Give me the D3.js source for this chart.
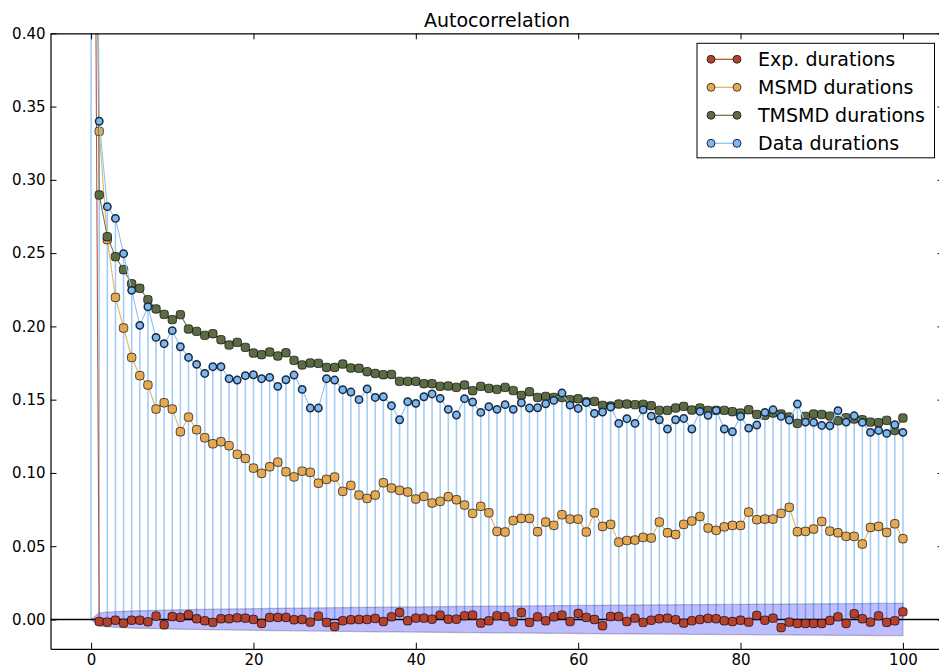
<!DOCTYPE html>
<html><head><meta charset="utf-8">
<script src="https://cdn.jsdelivr.net/npm/d3@7"></script>
<style>body{margin:0;background:#fff}svg{display:block;font-family:"DejaVu Sans",sans-serif}</style>
</head><body><svg id="c" width="939" height="668"></svg>
<script>
// ---------- data ----------
const lags = d3.range(0, 101);
const seriesNames = ["Exp. durations", "MSMD durations", "TMSMD durations", "Data durations"];
const expDurations = [1.0,
 -0.0014,-0.0018,-0.0005,-0.0025,-0.0005,-0.0005,-0.0016,0.0023,-0.0036,0.0020,
 0.0014,0.0032,0.0005,-0.0009,-0.0020,0.0005,0.0005,0.0011,0.0009,0.0000,
 -0.0027,0.0014,0.0014,0.0014,-0.0002,0.0000,-0.0018,0.0023,-0.0020,-0.0048,
 -0.0009,-0.0002,0.0000,0.0000,0.0007,-0.0014,0.0018,0.0048,-0.0009,0.0009,
 0.0009,0.0002,0.0030,0.0002,0.0002,0.0025,0.0030,-0.0025,-0.0009,0.0025,
 0.0020,-0.0016,0.0048,-0.0020,0.0018,-0.0009,0.0018,0.0030,-0.0014,0.0041,
 0.0014,0.0000,-0.0043,0.0020,0.0020,-0.0014,0.0009,-0.0020,-0.0005,0.0005,
 0.0009,-0.0002,-0.0025,-0.0009,0.0000,0.0007,0.0005,-0.0009,-0.0014,-0.0005,
 -0.0018,0.0027,-0.0005,0.0009,-0.0055,-0.0018,-0.0027,-0.0027,-0.0027,-0.0027,
 -0.0007,0.0018,-0.0027,0.0039,0.0005,-0.0018,0.0025,-0.0020,-0.0009,0.0052];
const msmdDurations = [1.0,
 0.3331,0.2592,0.2198,0.1989,0.1788,0.1664,0.1600,0.1436,0.1479,0.1436,
 0.1281,0.1381,0.1295,0.1240,0.1199,0.1213,0.1186,0.1127,0.1099,0.1033,
 0.0997,0.1042,0.1074,0.1008,0.0973,0.1012,0.1004,0.0930,0.0956,0.0972,
 0.0874,0.0915,0.0849,0.0826,0.0849,0.0933,0.0897,0.0881,0.0870,0.0822,
 0.0840,0.0795,0.0806,0.0838,0.0817,0.0781,0.0724,0.0772,0.0728,0.0601,
 0.0597,0.0675,0.0690,0.0690,0.0599,0.0665,0.0642,0.0715,0.0685,0.0685,
 0.0597,0.0728,0.0635,0.0649,0.0528,0.0539,0.0542,0.0560,0.0556,0.0665,
 0.0592,0.0580,0.0649,0.0672,0.0703,0.0624,0.0608,0.0632,0.0642,0.0642,
 0.0733,0.0681,0.0685,0.0685,0.0724,0.0765,0.0599,0.0601,0.0617,0.0669,
 0.0603,0.0592,0.0567,0.0567,0.0515,0.0628,0.0635,0.0594,0.0653,0.0551];
const tmsmdDurations = [1.0,
 0.2897,0.2612,0.2476,0.2387,0.2291,0.2260,0.2182,0.2119,0.2082,0.2046,
 0.2080,0.1982,0.1966,0.1939,0.1950,0.1909,0.1873,0.1891,0.1857,0.1818,
 0.1807,0.1825,0.1798,0.1820,0.1768,0.1737,0.1750,0.1748,0.1720,0.1720,
 0.1743,0.1716,0.1714,0.1691,0.1679,0.1670,0.1672,0.1625,0.1625,0.1625,
 0.1609,0.1609,0.1591,0.1593,0.1584,0.1600,0.1561,0.1591,0.1577,0.1570,
 0.1584,0.1562,0.1529,0.1554,0.1515,0.1522,0.1515,0.1515,0.1500,0.1506,
 0.1486,0.1488,0.1461,0.1457,0.1470,0.1470,0.1466,0.1468,0.1459,0.1427,
 0.1427,0.1443,0.1454,0.1429,0.1443,0.1427,0.1427,0.1427,0.1418,0.1409,
 0.1431,0.1399,0.1393,0.1409,0.1402,0.1382,0.1338,0.1386,0.1402,0.1399,
 0.1388,0.1356,0.1377,0.1368,0.1363,0.1347,0.1343,0.1359,0.1290,0.1375];
const dataDurations = [1.0,
 0.3400,0.2817,0.2737,0.2496,0.2246,0.2007,0.2134,0.1925,0.1882,0.1971,
 0.1861,0.1788,0.1741,0.1679,0.1725,0.1725,0.1643,0.1634,0.1664,0.1670,
 0.1643,0.1652,0.1591,0.1636,0.1668,0.1570,0.1443,0.1443,0.1643,0.1634,
 0.1568,0.1552,0.1500,0.1573,0.1515,0.1520,0.1459,0.1363,0.1486,0.1475,
 0.1520,0.1539,0.1509,0.1434,0.1395,0.1507,0.1484,0.1413,0.1452,0.1434,
 0.1466,0.1434,0.1479,0.1443,0.1445,0.1472,0.1495,0.1545,0.1463,0.1440,
 0.1481,0.1406,0.1416,0.1450,0.1338,0.1370,0.1338,0.1431,0.1388,0.1363,
 0.1300,0.1363,0.1372,0.1300,0.1420,0.1393,0.1427,0.1300,0.1281,0.1386,
 0.1306,0.1327,0.1413,0.1431,0.1386,0.1361,0.1470,0.1347,0.1345,0.1324,
 0.1322,0.1425,0.1347,0.1390,0.1345,0.1277,0.1290,0.1270,0.1329,0.1277];
const nObs = 190000; // sample size behind the 95% confidence band
const xTickValues = [0, 20, 40, 60, 80, 100];
const xTickLabels = ["0", "20", "40", "60", "80", "100"];
const yTickValues = [0.00, 0.05, 0.10, 0.15, 0.20, 0.25, 0.30, 0.35, 0.40];
const yTickLabels = ["0.00", "0.05", "0.10", "0.15", "0.20", "0.25", "0.30", "0.35", "0.40"];

// 95% band (Bartlett) derived from the data autocorrelation
const band = lags.map(k => {
  if (k === 0) return 0;
  let s = 0;
  for (let j = 1; j < k; j++) s += dataDurations[j] * dataDurations[j];
  return 1.96 * Math.sqrt((1 + 2 * s) / nObs);
});

// ---------- drawing ----------
const svg = d3.select("#c");
const x = d3.scaleLinear().domain([-5, 105]).range([50.5, 943.5]);
const y = d3.scaleLinear().domain([-0.02, 0.40]).range([648.8, 33.3]);

svg.append("defs").append("clipPath").attr("id", "pc").append("rect")
  .attr("x", x(-5)).attr("y", y(0.40)).attr("width", x(105) - x(-5)).attr("height", y(-0.02) - y(0.40));
const plot = svg.append("g").attr("clip-path", "url(#pc)");

const colors = {exp: "#b5412d", msmd: "#e3a954", tmsmd: "#5c6b43", data: "#7cb8ef"};
const lineCols = {exp: "#c0503c", msmd: "#e6b35f", tmsmd: "#6d7a55", data: "#8cc2f2"};

// stems
plot.append("g").selectAll("line").data(lags).join("line")
  .attr("x1", d => x(d)).attr("x2", d => x(d))
  .attr("y1", y(0)).attr("y2", d => y(dataDurations[d]))
  .attr("stroke", "#a3cdf7").attr("stroke-width", 1.6);

// band
plot.append("path").datum(lags)
  .attr("d", d3.area().x(d => x(d)).y0(d => y(-band[d])).y1(d => y(band[d])))
  .attr("fill", "rgba(0,0,255,0.26)").attr("stroke", "rgba(40,40,70,0.28)").attr("stroke-width", 1.3);

// zero line
plot.append("line").attr("x1", x(-5)).attr("x2", x(105)).attr("y1", y(0)).attr("y2", y(0))
  .attr("stroke", "#000").attr("stroke-width", 1.4);

function squareMarkers(g, arr, fill) {
  g.selectAll("rect.m").data(lags).join("rect").attr("class", "m")
    .attr("x", d => x(d) - 4.2).attr("y", d => y(arr[d]) - 4.2)
    .attr("width", 8.4).attr("height", 8.4).attr("rx", 2.8)
    .attr("fill", fill).attr("stroke", "rgba(0,0,0,0.65)").attr("stroke-width", 1);
}
function drawSeries(arr, key, circles) {
  const g = plot.append("g");
  g.append("path").datum(lags)
    .attr("d", d3.line().x(d => x(d)).y(d => y(arr[d])))
    .attr("fill", "none").attr("stroke", lineCols[key]).attr("stroke-width", 1.1);
  if (circles) {
    g.selectAll("circle").data(lags).join("circle")
      .attr("cx", d => x(d)).attr("cy", d => y(arr[d])).attr("r", 3.7)
      .attr("fill", colors[key]).attr("stroke", "#1b2a40").attr("stroke-width", 1.5);
  } else squareMarkers(g, arr, colors[key]);
}
drawSeries(expDurations, "exp", false);
drawSeries(msmdDurations, "msmd", false);
drawSeries(tmsmdDurations, "tmsmd", false);
drawSeries(dataDurations, "data", true);

// axes
const axisFont = g => g.selectAll("text").attr("font-size", 15).attr("font-family", "DejaVu Sans").attr("fill", "#000");
const styleAxis = g => { g.select(".domain").attr("stroke", "#000").attr("stroke-width", 1.2); g.selectAll(".tick line").attr("stroke", "#000"); };

svg.append("g").attr("transform", `translate(0,${y(-0.02)})`)
  .call(d3.axisBottom(x).tickValues(xTickValues).tickFormat((d, i) => xTickLabels[i]).tickSize(-6).tickSizeOuter(0).tickPadding(6))
  .call(axisFont).call(styleAxis);
svg.append("g").attr("transform", `translate(0,${y(0.40)})`)
  .call(d3.axisTop(x).tickValues(xTickValues).tickFormat("").tickSize(-6).tickSizeOuter(0))
  .call(styleAxis);
svg.append("g").attr("transform", `translate(${x(-5)},0)`)
  .call(d3.axisLeft(y).tickValues(yTickValues).tickFormat((d, i) => yTickLabels[i]).tickSize(-6).tickSizeOuter(0).tickPadding(5))
  .call(axisFont).call(styleAxis);
svg.append("g").attr("transform", `translate(${x(105)},0)`)
  .call(d3.axisRight(y).tickValues(yTickValues).tickFormat("").tickSize(-6).tickSizeOuter(0))
  .call(styleAxis);

// title
svg.append("text").attr("x", (x(-5) + x(105)) / 2).attr("y", 27).attr("text-anchor", "middle")
  .attr("font-size", 19).attr("fill", "#000").text("Autocorrelation");

// legend
const leg = svg.append("g");
leg.append("rect").attr("x", 697).attr("y", 43.3).attr("width", 237.5).attr("height", 114.5)
  .attr("fill", "#fff").attr("stroke", "#000").attr("stroke-width", 1);
const legKeys = ["exp", "msmd", "tmsmd", "data"];
seriesNames.forEach((name, i) => {
  const cy = 59.3 + i * 28;
  const k = legKeys[i];
  leg.append("line").attr("x1", 711).attr("x2", 737).attr("y1", cy).attr("y2", cy)
    .attr("stroke", lineCols[k]).attr("stroke-width", 1.3);
  [711, 737].forEach(cx => {
    leg.append("circle").attr("cx", cx).attr("cy", cy).attr("r", 4)
      .attr("fill", colors[k]).attr("stroke", k === "data" ? "#1b2a40" : "rgba(0,0,0,0.65)").attr("stroke-width", 1);
  });
  leg.append("text").attr("x", 758).attr("y", cy).attr("dy", "0.35em")
    .attr("font-size", 19).attr("fill", "#000").text(name);
});
</script></body></html>
